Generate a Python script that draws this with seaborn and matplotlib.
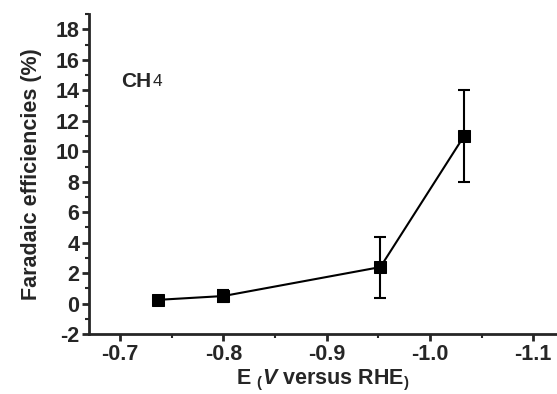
import pandas as pd
import numpy as np
import matplotlib
matplotlib.use("Agg")
import matplotlib.pyplot as plt
import seaborn as sns
from matplotlib.ticker import MultipleLocator

# Data
potential = [-0.737, -0.800, -0.952, -1.033]
fe_ch4 = [0.25, 0.5, 2.4, 11.0]
fe_err = [0.25, 0.4, 2.0, 3.0]

df = pd.DataFrame({"E": potential, "FE": fe_ch4, "err": fe_err})

sns.set_style("ticks")
plt.rcParams["font.family"] = ["Liberation Sans", "DejaVu Sans"]
plt.rcParams["font.weight"] = "bold"
plt.rcParams["axes.unicode_minus"] = False
plt.rcParams["mathtext.fontset"] = "custom"
plt.rcParams["mathtext.rm"] = "Liberation Sans:bold"
plt.rcParams["mathtext.it"] = "Liberation Sans:italic:bold"
plt.rcParams["mathtext.bf"] = "Liberation Sans:bold"

fig = plt.figure(figsize=(5.57, 3.94), dpi=100)
ax = fig.add_axes([0.16, 0.152, 0.84, 0.812])

ax.errorbar(df["E"], df["FE"], yerr=df["err"], fmt="none", ecolor="black",
            elinewidth=1.5, capsize=4, capthick=1.5, zorder=2)
sns.lineplot(x="E", y="FE", data=df, color="black", linewidth=1.5, marker="s",
             markersize=9, markeredgecolor="black", ax=ax, zorder=3)

ax.set_xlim(-0.67, -1.123)
ax.set_ylim(-2, 19)
ax.xaxis.set_minor_locator(MultipleLocator(0.05))
ax.yaxis.set_minor_locator(MultipleLocator(1))
ax.set_xticks(np.arange(-0.7, -1.15, -0.1))
ax.set_xticklabels(["-0.7", "-0.8", "-0.9", "-1.0", "-1.1"])
ax.set_yticks(np.arange(-2, 19, 2))
ax.set_yticklabels([str(v) for v in range(-2, 19, 2)])

for side in ["top", "right"]:
    ax.spines[side].set_visible(False)
for side in ["left", "bottom"]:
    ax.spines[side].set_linewidth(2)

ax.tick_params(axis="both", which="major", length=5, width=2, labelsize=15.5,
               direction="out", pad=2)
ax.tick_params(axis="both", which="minor", length=3, width=1.5, direction="out")
for lab in ax.get_xticklabels() + ax.get_yticklabels():
    lab.set_fontweight("bold")

ax.set_ylabel("Faradaic efficiencies (%)", fontsize=15.5, fontweight="bold", labelpad=10)
ax.set_xlabel(r"E $_($$\it{V}$ versus RHE$_)$", fontsize=15.5, fontweight="bold", labelpad=2)

ch = ax.text(-0.701, 14.6, "CH", fontsize=15, fontweight="bold", va="center", ha="left")
fig.canvas.draw()
bb = ch.get_window_extent()
ax.text(bb.x1 + 1, bb.y0 + 2, "4", fontsize=12.5, fontweight="normal", va="bottom",
        ha="left", transform=None)

fig.savefig("out.png", dpi=100)
